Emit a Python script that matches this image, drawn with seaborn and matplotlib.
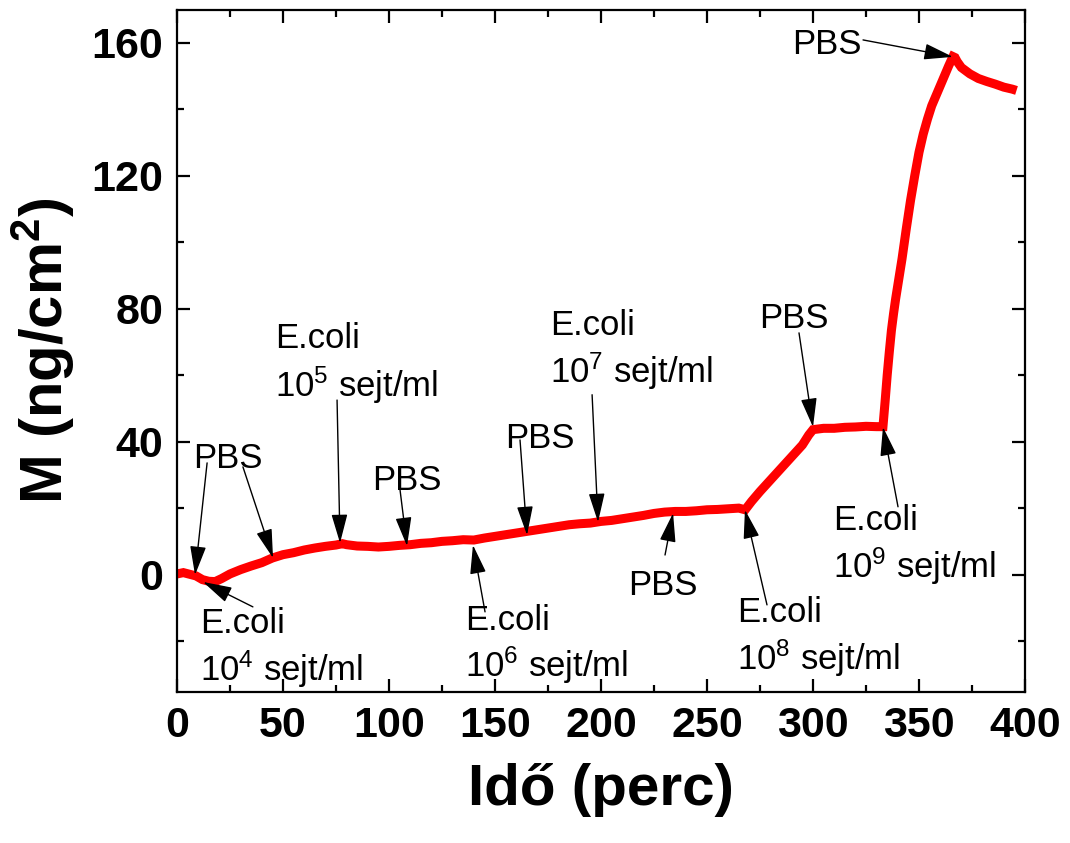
import matplotlib
matplotlib.use("Agg")
import matplotlib.pyplot as plt
from matplotlib.ticker import MultipleLocator
import seaborn as sns
import pandas as pd

# Mass loading vs time during sequential E. coli / PBS injections
time_min = [0, 3, 6, 9, 12, 15, 18, 21, 25, 30, 35, 40, 45, 50, 55, 60, 65, 70, 75, 78,
            80, 85, 90, 95, 100, 105, 110, 115, 120, 125, 130, 135, 140, 145, 150, 155,
            160, 165, 170, 175, 180, 185, 190, 195, 200, 205, 210, 215, 220, 225, 230,
            235, 240, 245, 250, 255, 260, 265, 268, 271, 275, 280, 285, 290, 295, 298,
            300, 305, 310, 315, 320, 325, 330, 333, 334, 335, 336, 337, 338, 339, 340,
            342, 344, 346, 348, 350, 352, 354, 356, 358, 360, 362, 364, 366, 367, 368,
            370, 374, 378, 382, 386, 390, 394, 396]
mass = [0.2, 0.6, 0.1, -0.4, -1.5, -2.0, -2.1, -1.2, 0.2, 1.5, 2.6, 3.6, 5.0, 6.0, 6.6,
        7.4, 8.0, 8.5, 8.9, 9.3, 9.0, 8.6, 8.5, 8.3, 8.5, 8.8, 9.0, 9.4, 9.6, 10.0, 10.2,
        10.5, 10.4, 11.0, 11.5, 12.0, 12.5, 13.0, 13.5, 14.0, 14.5, 15.0, 15.3, 15.5,
        16.0, 16.3, 16.8, 17.3, 17.8, 18.4, 18.8, 19.0, 19.0, 19.2, 19.5, 19.6, 19.8,
        20.0, 19.5, 22.0, 25.0, 28.5, 32.0, 35.5, 39.0, 42.0, 43.6, 44.0, 44.0, 44.3,
        44.4, 44.6, 44.5, 44.5, 52.0, 60.0, 67.0, 73.5, 78.5, 83.0, 87.0, 95.0, 104.0,
        112.5, 120.0, 127.0, 132.5, 137.0, 141.0, 144.0, 147.0, 150.0, 153.0, 155.8,
        155.5, 154.3, 152.5, 150.6, 149.2, 148.3, 147.5, 146.6, 146.0, 145.6]

x_ticks = [0, 50, 100, 150, 200, 250, 300, 350, 400]
y_ticks = [0, 40, 80, 120, 160]

# Annotation labels: (text, x, baseline y)
pbs_labels = [
    ("PBS", 7.5, 32.1),
    ("PBS", 92.0, 25.5),
    ("PBS", 154.7, 38.1),
    ("PBS", 212.7, -6.2),
    ("PBS", 274.5, 74.2),
    ("PBS", 290.0, 156.6),
]
# E. coli labels: (exponent, x, baseline of line 1, baseline of line 2)
ecoli_labels = [
    ("4", 10.8, -17.5, -32.0),
    ("5", 46.2, 68.2, 53.5),
    ("6", 135.8, -16.6, -30.7),
    ("7", 176.0, 72.1, 57.7),
    ("8", 264.2, -14.2, -28.6),
    ("9", 309.4, 13.4, -1.0),
]
# Arrows: (tail x, tail y, head x, head y)
arrows = [
    (14.2, 33.6, 8.5, -0.1),
    (31.1, 32.4, 45.3, 5.0),
    (35.8, -9.7, 12.3, -2.2),
    (75.5, 52.5, 76.9, 9.5),
    (105.2, 25.5, 108.5, 8.6),
    (145.3, -11.2, 139.6, 8.9),
    (161.8, 40.5, 165.1, 11.9),
    (195.8, 54.1, 198.6, 15.8),
    (230.2, 5.9, 234.0, 18.5),
    (278.3, -9.1, 267.9, 19.5),
    (293.4, 72.7, 300.0, 44.4),
    (340.1, 20.4, 333.0, 44.4),
    (323.6, 160.8, 366.0, 155.7),
]

sns.set_theme(style="ticks")
plt.rcParams["font.family"] = ["Liberation Sans", "DejaVu Sans"]
plt.rcParams["mathtext.fontset"] = "custom"
plt.rcParams["mathtext.rm"] = "Liberation Sans"
plt.rcParams["mathtext.bf"] = "Liberation Sans:bold"
plt.rcParams["mathtext.default"] = "regular"
for key in ["text.color", "axes.labelcolor", "xtick.color", "ytick.color",
            "axes.edgecolor"]:
    plt.rcParams[key] = "black"

df = pd.DataFrame({"t": time_min, "M": mass})

fig = plt.figure(figsize=(10.7, 8.43), dpi=100)
ax = fig.add_axes([177 / 1070, 1 - 692 / 843, (1025 - 177) / 1070, (692 - 10) / 843])

sns.lineplot(data=df, x="t", y="M", ax=ax, color="#ff0000", linewidth=6.5,
             sort=False, solid_capstyle="butt", solid_joinstyle="miter")

ax.set_xlim(0, 400)
ax.set_ylim(-35.3, 169.8)
ax.set_xticks(x_ticks)
ax.set_yticks(y_ticks)
ax.xaxis.set_minor_locator(MultipleLocator(25))
ax.yaxis.set_minor_locator(MultipleLocator(20))
ax.tick_params(which="both", direction="in", top=True, right=True, width=1.6,
               color="black", labelcolor="black")
ax.tick_params(which="major", length=9.5, pad=10, labelsize=31)
ax.tick_params(which="minor", length=5)
for lbl in ax.get_xticklabels() + ax.get_yticklabels():
    lbl.set_fontweight("bold")
for sp in ax.spines.values():
    sp.set_linewidth(1.6)
    sp.set_color("black")

ax.set_xlabel("Idő (perc)", fontsize=42, fontweight="bold", labelpad=12)
ax.set_ylabel(r"M (ng/cm$^\mathbf{2}$)", fontsize=43, fontweight="bold", labelpad=10)

fs = 25
for txt, x, y in pbs_labels:
    ax.text(x, y, txt, fontsize=fs, ha="left", va="baseline", color="black")
for exp, x, y1, y2 in ecoli_labels:
    ax.text(x, y1, "E.coli", fontsize=fs, ha="left", va="baseline", color="black")
    ax.text(x, y2, "10$^{%s}$ sejt/ml" % exp, fontsize=fs, ha="left",
            va="baseline", color="black")

for x0, y0, x1, y1 in arrows:
    ax.annotate("", xy=(x1, y1), xytext=(x0, y0),
                arrowprops=dict(arrowstyle="-|>,head_length=0.9,head_width=0.25",
                                color="black", lw=1.0, shrinkA=0, shrinkB=0,
                                mutation_scale=20))

fig.savefig("out.png", dpi=100)
